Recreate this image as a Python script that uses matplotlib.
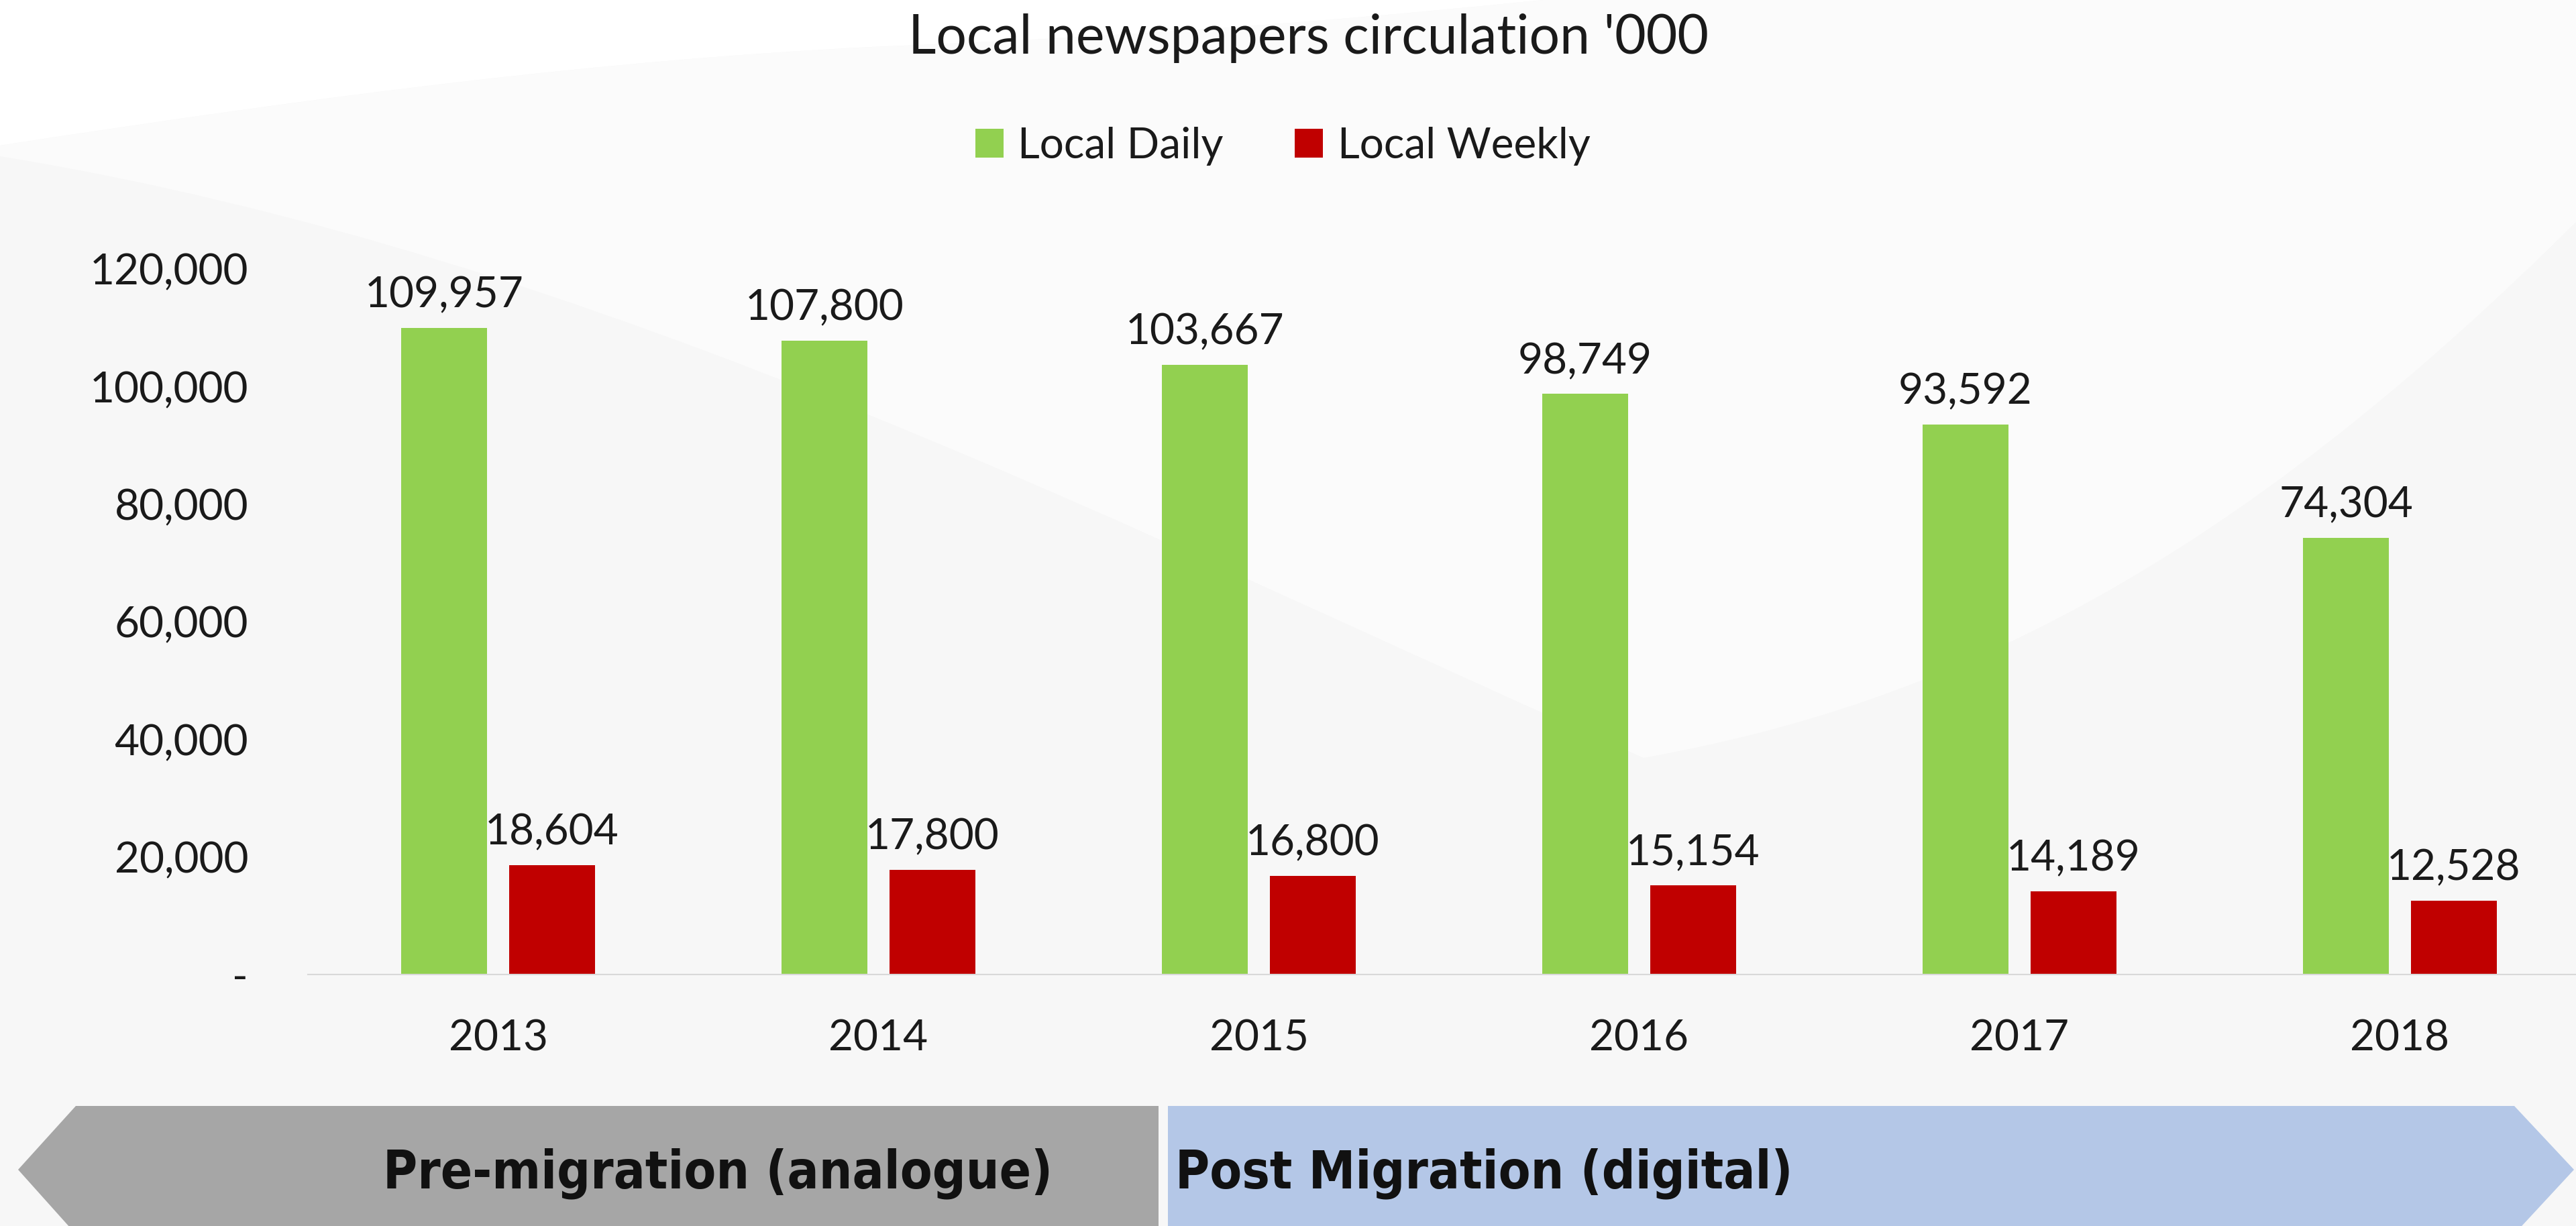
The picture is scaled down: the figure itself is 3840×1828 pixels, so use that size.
import matplotlib
matplotlib.use('Agg')
import matplotlib.pyplot as plt
import numpy as np
from matplotlib.patches import Polygon, PathPatch
from matplotlib.path import Path
from matplotlib.ticker import FuncFormatter

# ---------------- data ----------------
years = ['2013', '2014', '2015', '2016', '2017', '2018']
local_daily = [109957, 107800, 103667, 98749, 93592, 74304]
local_weekly = [18604, 17800, 16800, 15154, 14189, 12528]
series_names = ['Local Daily', 'Local Weekly']
title = "Local newspapers circulation '000"
yticks = [0, 20000, 40000, 60000, 80000, 100000, 120000]
phase_labels = ['Pre-migration (analogue)', 'Post Migration (digital)']

# ---------------- figure ----------------
W, H = 3841, 1828
DPI = 100
fig = plt.figure(figsize=(W / DPI, H / DPI), dpi=DPI)
fig.patch.set_facecolor('white')


def fp(x, y):
    return (x / W, 1 - y / H)


# subtle background swoosh
gray_bg = '#f7f7f7'
verts = [fp(0, 217), fp(500, 140), fp(900, 90), fp(1300, 70),
         fp(1800, 50), fp(2100, 20), fp(2300, 0),
         fp(W, 0), fp(W, H), fp(0, H), fp(0, 217)]
codes = [Path.MOVETO, Path.CURVE4, Path.CURVE4, Path.CURVE4,
         Path.CURVE4, Path.CURVE4, Path.CURVE4,
         Path.LINETO, Path.LINETO, Path.LINETO, Path.CLOSEPOLY]
fig.patches.append(PathPatch(Path(verts, codes), transform=fig.transFigure,
                             facecolor=gray_bg, edgecolor='none', zorder=-10))
lens = [fp(0, 233), fp(900, 380), fp(1700, 800), fp(2450, 1130),
        fp(2900, 1050), fp(3319, 849), fp(3841, 330),
        fp(W, 0), fp(2300, 0), fp(2100, 20), fp(1800, 50), fp(1300, 70),
        fp(900, 90), fp(500, 140), fp(0, 217), fp(0, 233)]
lcodes = [Path.MOVETO, Path.CURVE4, Path.CURVE4, Path.CURVE4,
          Path.CURVE4, Path.CURVE4, Path.CURVE4, Path.LINETO,
          Path.LINETO, Path.CURVE4, Path.CURVE4, Path.CURVE4,
          Path.CURVE4, Path.CURVE4, Path.CURVE4, Path.CLOSEPOLY]
fig.patches.append(PathPatch(Path(lens, lcodes), transform=fig.transFigure,
                             facecolor='#fbfbfb', edgecolor='none', zorder=-9))

# ---------------- axes ----------------
ax = fig.add_axes([459 / W, 1 - 1453 / H, 3402 / W, 1052 / H])
ax.set_facecolor('none')
ax.set_xlim(-0.5, 5.5)
ax.set_ylim(0, 120000)

x = np.arange(len(years))
bw = 0.225
off = 0.142
b1 = ax.bar(x - off, local_daily, bw, color='#92D050', label=series_names[0])
b2 = ax.bar(x + off, local_weekly, bw, color='#C00000', label=series_names[1])

font = 'Lato'
lab_fs = 46
ax.bar_label(b1, labels=[f'{v:,}' for v in local_daily], padding=14,
             fontsize=lab_fs, family=font, color='#1a1a1a')
ax.bar_label(b2, labels=[f'{v:,}' for v in local_weekly], padding=14,
             fontsize=lab_fs, family=font, color='#1a1a1a')

ax.set_xticks(x)
ax.set_xticklabels(years)
ax.set_yticks(yticks)
ax.yaxis.set_major_formatter(FuncFormatter(lambda v, p: '-' if v == 0 else f'{int(v):,}'))
ax.tick_params(axis='both', length=0, labelsize=lab_fs, labelcolor='#1a1a1a')
ax.tick_params(axis='y', pad=64)
ax.tick_params(axis='x', pad=48)
for lbl in ax.get_xticklabels() + ax.get_yticklabels():
    lbl.set_family(font)
for s in ['top', 'right', 'left']:
    ax.spines[s].set_visible(False)
ax.spines['bottom'].set_color('#d9d9d9')
ax.spines['bottom'].set_linewidth(1.5)

# title & legend
fig.text(1951 / W, 1 - 80 / H, title, ha='center', va='baseline',
         fontsize=58, family=font, color='#1a1a1a')
fig.legend(handles=[b1, b2], labels=series_names, loc='center',
           bbox_to_anchor=(1912 / W, 1 - 218 / H), ncol=2, frameon=False,
           prop={'family': font, 'size': 46}, handlelength=0.66,
           handleheight=0.66, handletextpad=0.34, columnspacing=1.66,
           labelcolor='#1a1a1a')

# phase arrows
gray_arrow = [fp(113, 1649), fp(1727, 1649), fp(1727, 1840), fp(113, 1840),
              fp(27, 1744)]
blue_arrow = [fp(1741, 1649), fp(3748, 1649), fp(3837, 1744), fp(3748, 1840),
              fp(1741, 1840)]
fig.patches.append(Polygon(gray_arrow, closed=True, transform=fig.transFigure,
                           facecolor='#A6A6A6', edgecolor='none'))
fig.patches.append(Polygon(blue_arrow, closed=True, transform=fig.transFigure,
                           facecolor='#B4C7E7', edgecolor='none'))
arrow_font = dict(fontsize=56, weight='bold', family='DejaVu Sans',
                  fontstretch='condensed', color='#111111')
fig.text(1070 / W, 1 - 1772 / H, phase_labels[0], ha='center', va='baseline',
         **arrow_font)
fig.text(2212 / W, 1 - 1772 / H, phase_labels[1], ha='center', va='baseline',
         **arrow_font)

fig.savefig('out.png', dpi=DPI, facecolor=fig.get_facecolor())
